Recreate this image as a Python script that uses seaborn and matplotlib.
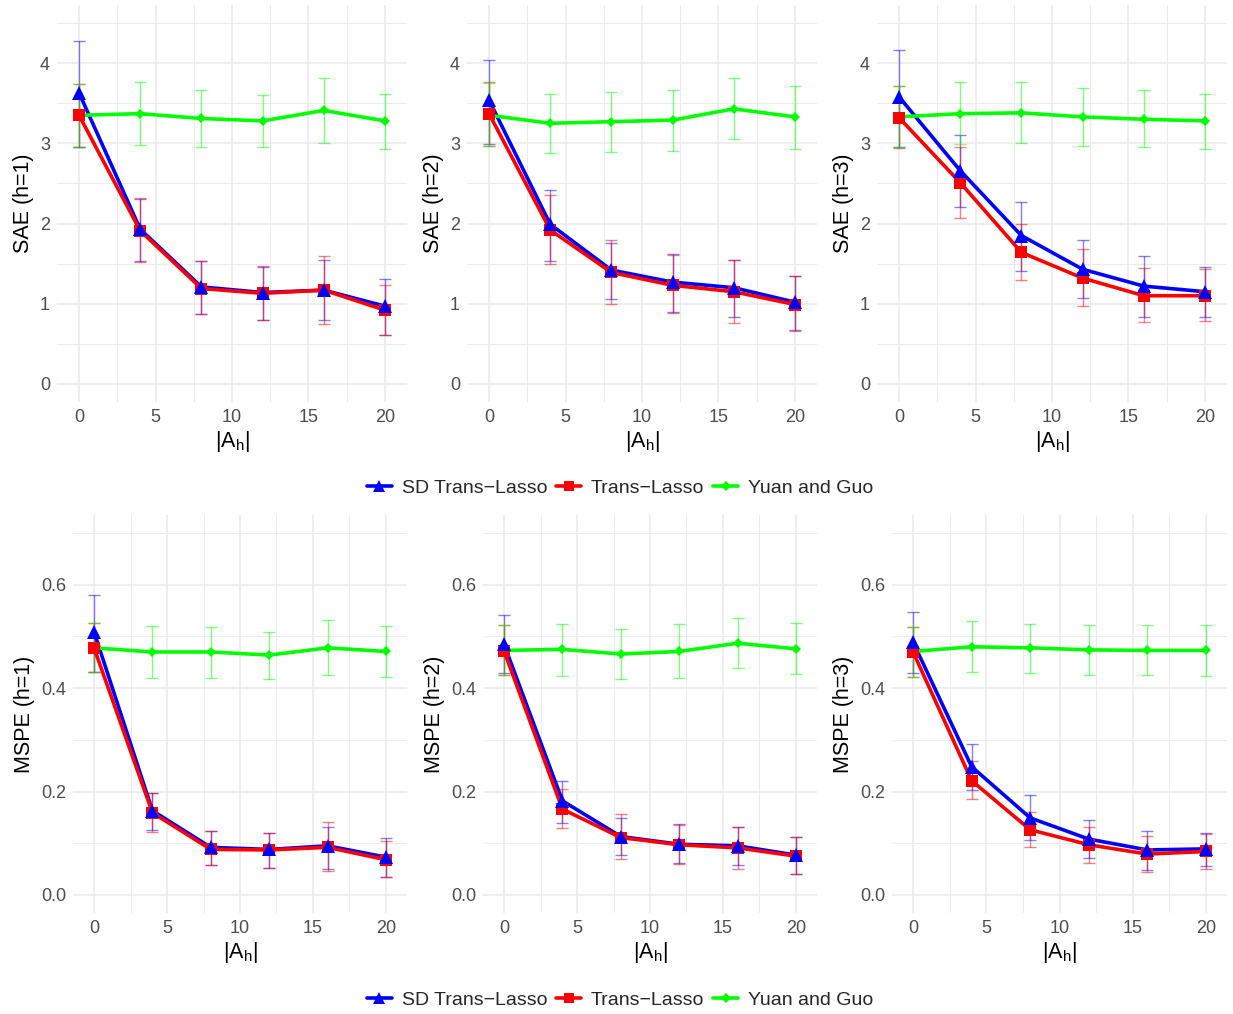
import numpy as np
import pandas as pd
import seaborn as sns
import matplotlib
matplotlib.use("Agg")
import matplotlib.pyplot as plt
from matplotlib.lines import Line2D
from matplotlib.ticker import MultipleLocator

sns.set_theme(style="whitegrid")
plt.rcParams['font.family'] = ['Liberation Sans', 'DejaVu Sans']
plt.rcParams['mathtext.fontset'] = 'custom'
plt.rcParams['mathtext.rm'] = 'Liberation Sans'
plt.rcParams['mathtext.it'] = 'Liberation Sans'

x_vals = [0, 4, 8, 12, 16, 20]
methods = ["SD Trans\u2212Lasso", "Trans\u2212Lasso", "Yuan and Guo"]

# SAE, h = 1,2,3 : mean, lower, upper
sae_sd = [
    [3.63, 1.93, 1.21, 1.14, 1.17, 0.97],
    [3.54, 1.99, 1.42, 1.27, 1.20, 1.02],
    [3.58, 2.66, 1.85, 1.43, 1.22, 1.15],
]
sae_sd_lo = [
    [2.96, 1.53, 0.87, 0.80, 0.80, 0.61],
    [2.99, 1.53, 1.06, 0.90, 0.84, 0.67],
    [2.96, 2.21, 1.41, 1.07, 0.83, 0.84],
]
sae_sd_hi = [
    [4.28, 2.31, 1.53, 1.46, 1.55, 1.31],
    [4.04, 2.42, 1.76, 1.62, 1.55, 1.35],
    [4.17, 3.10, 2.27, 1.79, 1.59, 1.46],
]
sae_tl = [
    [3.35, 1.91, 1.19, 1.13, 1.17, 0.92],
    [3.37, 1.92, 1.39, 1.23, 1.15, 0.99],
    [3.32, 2.51, 1.64, 1.32, 1.10, 1.10],
]
sae_tl_lo = [
    [2.96, 1.52, 0.87, 0.80, 0.75, 0.61],
    [2.97, 1.50, 1.00, 0.88, 0.76, 0.66],
    [2.94, 2.07, 1.29, 0.97, 0.77, 0.78],
]
sae_tl_hi = [
    [3.74, 2.32, 1.53, 1.47, 1.59, 1.24],
    [3.76, 2.36, 1.80, 1.61, 1.54, 1.35],
    [3.71, 2.95, 2.00, 1.68, 1.44, 1.43],
]
sae_yg = [
    [3.35, 3.37, 3.31, 3.28, 3.41, 3.28],
    [3.35, 3.25, 3.27, 3.29, 3.43, 3.33],
    [3.33, 3.37, 3.38, 3.33, 3.30, 3.28],
]
sae_yg_lo = [
    [2.96, 2.98, 2.95, 2.95, 3.00, 2.93],
    [2.97, 2.88, 2.89, 2.91, 3.05, 2.93],
    [2.95, 2.99, 3.01, 2.97, 2.95, 2.93],
]
sae_yg_hi = [
    [3.74, 3.76, 3.66, 3.60, 3.82, 3.62],
    [3.75, 3.62, 3.64, 3.66, 3.81, 3.72],
    [3.71, 3.76, 3.76, 3.69, 3.66, 3.62],
]

# MSPE, h = 1,2,3
mspe_sd = [
    [0.509, 0.163, 0.092, 0.088, 0.095, 0.073],
    [0.485, 0.182, 0.113, 0.098, 0.095, 0.077],
    [0.489, 0.248, 0.149, 0.108, 0.087, 0.089],
]
mspe_sd_lo = [
    [0.431, 0.126, 0.057, 0.053, 0.050, 0.035],
    [0.430, 0.140, 0.077, 0.061, 0.058, 0.040],
    [0.429, 0.203, 0.106, 0.072, 0.048, 0.056],
]
mspe_sd_hi = [
    [0.581, 0.198, 0.124, 0.120, 0.132, 0.110],
    [0.542, 0.220, 0.148, 0.137, 0.132, 0.113],
    [0.547, 0.292, 0.194, 0.144, 0.124, 0.120],
]
mspe_tl = [
    [0.478, 0.159, 0.088, 0.087, 0.092, 0.068],
    [0.472, 0.166, 0.111, 0.097, 0.091, 0.075],
    [0.470, 0.221, 0.126, 0.097, 0.079, 0.084],
]
mspe_tl_lo = [
    [0.431, 0.121, 0.057, 0.052, 0.046, 0.035],
    [0.425, 0.130, 0.069, 0.059, 0.050, 0.040],
    [0.422, 0.185, 0.093, 0.061, 0.045, 0.050],
]
mspe_tl_hi = [
    [0.526, 0.198, 0.124, 0.120, 0.142, 0.104],
    [0.522, 0.205, 0.156, 0.135, 0.132, 0.113],
    [0.518, 0.259, 0.160, 0.132, 0.114, 0.117],
]
mspe_yg = [
    [0.478, 0.470, 0.470, 0.464, 0.478, 0.471],
    [0.473, 0.475, 0.466, 0.471, 0.487, 0.476],
    [0.471, 0.480, 0.478, 0.474, 0.473, 0.473],
]
mspe_yg_lo = [
    [0.431, 0.420, 0.420, 0.418, 0.425, 0.422],
    [0.425, 0.424, 0.418, 0.419, 0.439, 0.428],
    [0.422, 0.431, 0.430, 0.426, 0.425, 0.423],
]
mspe_yg_hi = [
    [0.526, 0.520, 0.519, 0.509, 0.532, 0.521],
    [0.522, 0.525, 0.514, 0.525, 0.535, 0.527],
    [0.518, 0.529, 0.525, 0.523, 0.522, 0.522],
]

colors = {"SD Trans\u2212Lasso": "#0000FF", "Trans\u2212Lasso": "#FF0000", "Yuan and Guo": "#00FF00"}
markers = {"SD Trans\u2212Lasso": "^", "Trans\u2212Lasso": "s", "Yuan and Guo": "D"}
msizes = {"SD Trans\u2212Lasso": 10, "Trans\u2212Lasso": 8.5, "Yuan and Guo": 5.5}

W, H = 1233, 1014
fig = plt.figure(figsize=(W / 100, H / 100), dpi=100)

def frac_rect(l, t, r, b):
    return [l / W, 1 - b / H, (r - l) / W, (b - t) / H]

top_rects = [frac_rect(57, 5, 407, 402), frac_rect(467, 5, 817, 402), frac_rect(877, 5, 1227, 402)]
bot_rects = [frac_rect(73, 515, 407, 913), frac_rect(483, 515, 817, 913), frac_rect(892, 515, 1227, 913)]

def build_df(means, los, his, h):
    rows = []
    for m, mean, lo, hi in zip(methods, means, los, his):
        for xv, a, b, c in zip(x_vals, mean[h], lo[h], hi[h]):
            rows.append({"A": xv, "value": a, "lo": b, "hi": c, "method": m})
    return pd.DataFrame(rows)

def draw_panel(ax, df, ylabel, ylim, major, minor, fmt):
    ax.set_facecolor("white")
    for m in methods:
        sub = df[df.method == m]
        ax.errorbar(sub.A, sub.value, yerr=[sub.value - sub.lo, sub.hi - sub.value],
                    fmt="none", ecolor=colors[m], alpha=0.5, elinewidth=1.0,
                    capsize=4.4, capthick=1.0, zorder=2)
    for m in methods:
        sub = df[df.method == m]
        sns.lineplot(data=sub, x="A", y="value", color=colors[m], linewidth=2.6,
                     ax=ax, legend=False, zorder=3, estimator=None)
    for m in ["Yuan and Guo", "Trans\u2212Lasso", "SD Trans\u2212Lasso"]:
        sub = df[df.method == m]
        ax.plot(sub.A, sub.value, linestyle="none", marker=markers[m],
                markersize=msizes[m], color=colors[m], markeredgewidth=0, zorder=4)
    ax.set_xlim(-1.44, 21.44)
    ax.set_ylim(*ylim)
    ax.xaxis.set_major_locator(MultipleLocator(5))
    ax.xaxis.set_minor_locator(MultipleLocator(2.5))
    ax.yaxis.set_major_locator(MultipleLocator(major))
    ax.yaxis.set_minor_locator(MultipleLocator(minor))
    ax.yaxis.set_major_formatter(fmt)
    ax.grid(which="major", color="#EBEBEB", linewidth=1.2)
    ax.grid(which="minor", color="#EBEBEB", linewidth=0.7)
    for s in ax.spines.values():
        s.set_visible(False)
    ax.tick_params(axis="both", which="both", length=0, labelsize=13,
                   labelcolor="#4D4D4D")
    ax.tick_params(axis="x", pad=5)
    ax.tick_params(axis="y", pad=5)
    ax.set_xlabel(r"|A$_\mathregular{h}$|", fontsize=15.5, color="black", labelpad=2)
    ax.set_ylabel(ylabel, fontsize=15.5, color="black", labelpad=4)

for h in range(3):
    ax = fig.add_axes(top_rects[h])
    df = build_df([sae_sd, sae_tl, sae_yg], [sae_sd_lo, sae_tl_lo, sae_yg_lo],
                  [sae_sd_hi, sae_tl_hi, sae_yg_hi], h)
    draw_panel(ax, df, f"SAE (h={h+1})", (-0.225, 4.725), 1, 0.5,
               matplotlib.ticker.FormatStrFormatter("%d"))
    ax = fig.add_axes(bot_rects[h])
    df = build_df([mspe_sd, mspe_tl, mspe_yg], [mspe_sd_lo, mspe_tl_lo, mspe_yg_lo],
                  [mspe_sd_hi, mspe_tl_hi, mspe_yg_hi], h)
    draw_panel(ax, df, f"MSPE (h={h+1})", (-0.035, 0.735), 0.2, 0.1,
               matplotlib.ticker.FormatStrFormatter("%.1f"))

handles = [Line2D([0], [0], color=colors[m], marker=markers[m], markersize=msizes[m] * 0.9,
                  linewidth=2.6, markeredgewidth=0) for m in methods]
for yc in [1 - 488 / H, 1 - 1000 / H]:
    fig.legend(handles, methods, loc="center", bbox_to_anchor=(620 / W, yc), ncol=3,
               frameon=False, fontsize=14, handlelength=1.3, handletextpad=0.5,
               columnspacing=0.45)

fig.savefig("out.png", dpi=100, facecolor="white")
